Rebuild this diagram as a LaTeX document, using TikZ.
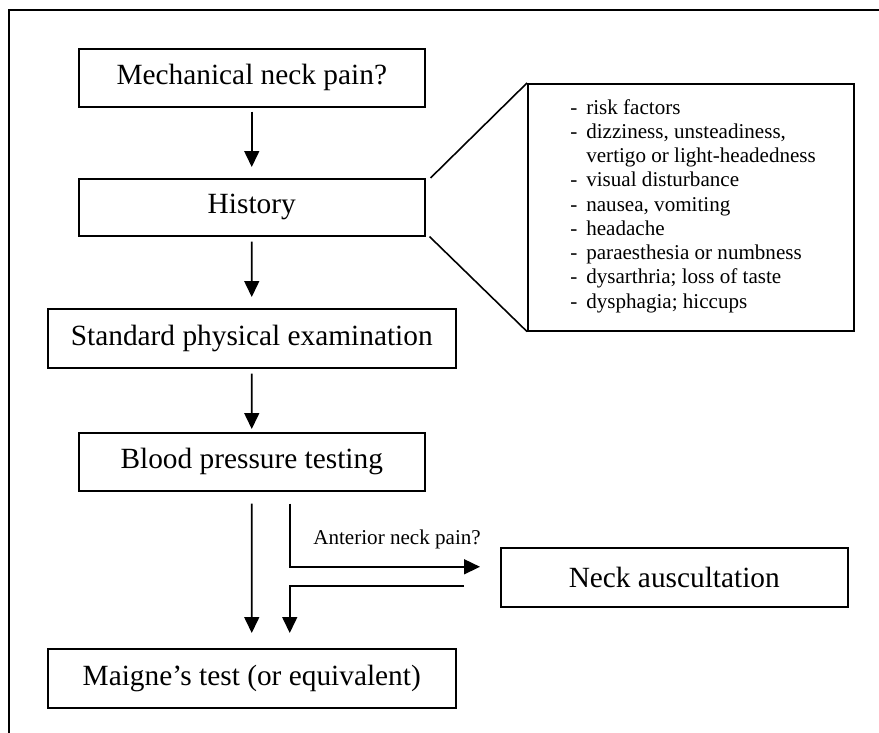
\documentclass[tikz,border=0pt]{standalone}
\usepackage{fontspec}
\setmainfont{Liberation Serif}
\usetikzlibrary{arrows.meta}
\newcommand{\riskitem}[1]{\makebox[0.32cm][l]{-}#1}

\begin{document}
\begin{tikzpicture}[x=0.02cm, y=-0.02cm,
  flowbox/.style={draw, line width=0.9pt, anchor=north west, inner sep=0pt,
                  align=center, font=\fontsize{16.7}{19}\selectfont},
  flowarrow/.style={line width=0.9pt, -{Triangle[length=0.32cm, width=0.3cm]}},
  plainline/.style={line width=0.9pt}]
  \useasboundingbox (0,0) rectangle (879,733);
  \draw[plainline] (9,733) -- (9,10) -- (879,10);
  \node[flowbox, minimum width=6.92cm, minimum height=1.16cm] (mech) at (78,48)
    {Mechanical neck pain?};
  \node[flowbox, minimum width=6.92cm, minimum height=1.14cm] (hist) at (78,178)
    {History};
  \node[flowbox, minimum width=8.16cm, minimum height=1.18cm] (exam) at (47,308)
    {Standard physical examination};
  \node[flowbox, minimum width=6.92cm, minimum height=1.16cm] (bp) at (78,432)
    {Blood pressure testing};
  \node[flowbox, minimum width=6.94cm, minimum height=1.18cm] (ausc) at (500,547)
    {Neck auscultation};
  \node[flowbox, minimum width=8.16cm, minimum height=1.18cm] (maig) at (47,648)
    {Maigne’s test (or equivalent)};
  \node[flowbox, minimum width=6.52cm, minimum height=4.94cm] (call) at (527,83) {};
  \node[anchor=north west, align=left, inner sep=0pt,
        font=\fontsize{12}{13.8}\selectfont]
    (risks) at ([xshift=0.86cm, yshift=-0.32cm]call.north west)
    {\riskitem{risk factors} \\ \riskitem{dizziness, unsteadiness,} \\
     \hspace*{0.32cm}vertigo or light-headedness \\ \riskitem{visual disturbance} \\
     \riskitem{nausea, vomiting} \\ \riskitem{headache} \\
     \riskitem{paraesthesia or numbness} \\ \riskitem{dysarthria; loss of taste} \\
     \riskitem{dysphagia; hiccups}};
  \node[anchor=base west, inner sep=0pt, font=\fontsize{12}{14}\selectfont]
    (antlbl) at (313,544) {Anterior neck pain?};
  \draw[flowarrow] ([yshift=-0.08cm]mech.south) -- ([yshift=0.22cm]hist.north);
  \draw[flowarrow] ([yshift=-0.1cm]hist.south) -- ([yshift=0.22cm]exam.north);
  \draw[flowarrow] ([yshift=-0.1cm]exam.south) -- ([yshift=0.06cm]bp.north);
  \draw[flowarrow] ([yshift=-0.24cm]bp.south) -- ([yshift=0.3cm]maig.north);
  \draw[flowarrow] ([xshift=0.76cm, yshift=-0.24cm]bp.south)
    |- ([xshift=-0.4cm, yshift=0.21cm]ausc.west);
  \draw[flowarrow] ([xshift=-0.72cm, yshift=-0.17cm]ausc.west)
    -| ([xshift=0.76cm, yshift=0.3cm]maig.north);
  \draw[plainline] ([xshift=0.1cm]hist.north east) -- (call.north west);
  \draw[plainline] ([xshift=0.08cm]hist.south east) -- (call.south west);
\end{tikzpicture}
\end{document}
